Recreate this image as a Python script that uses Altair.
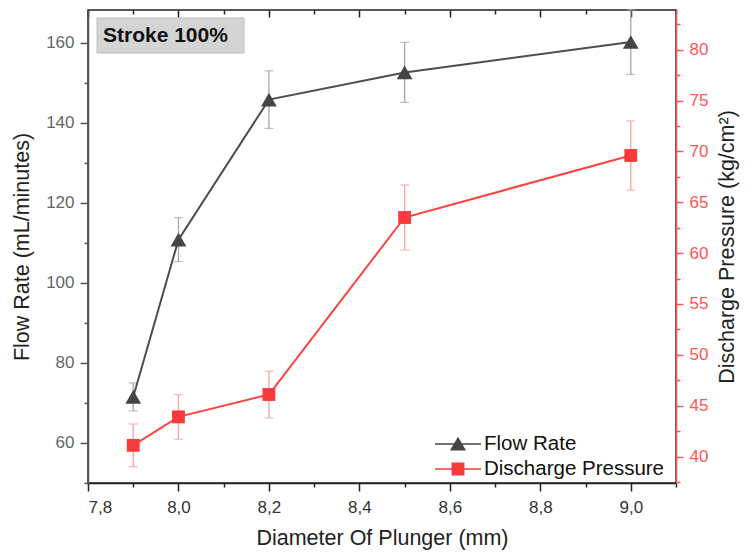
import altair as alt
import pandas as pd

# ---------------- data ----------------
DIAMETER = [7.9, 8.0, 8.2, 8.5, 9.0]
FLOW_RATE = [71.5, 110.8, 145.8, 152.6, 160.2]
FLOW_ERR = [3.5, 5.5, 7.2, 7.5, 8.1]
PRESSURE = [41.1, 43.9, 46.1, 63.5, 69.6]
PRESSURE_ERR = [2.1, 2.2, 2.3, 3.2, 3.4]
SERIES = ["Flow Rate", "Discharge Pressure"]
ANNOTATION = ["Stroke 100%"]

X_TICKS = [7.8, 7.9, 8.0, 8.1, 8.2, 8.3, 8.4, 8.5, 8.6, 8.7, 8.8, 8.9, 9.0, 9.1]
FLOW_TICKS = [50, 60, 70, 80, 90, 100, 110, 120, 130, 140, 150, 160]
PRESSURE_TICKS = [37.5, 40, 42.5, 45, 47.5, 50, 52.5, 55, 57.5, 60, 62.5,
                  65, 67.5, 70, 72.5, 75, 77.5, 80, 82.5]

df = pd.DataFrame({
    "d": DIAMETER,
    "flow": FLOW_RATE,
    "flow_lo": [v - e for v, e in zip(FLOW_RATE, FLOW_ERR)],
    "flow_hi": [v + e for v, e in zip(FLOW_RATE, FLOW_ERR)],
    "p": PRESSURE,
    "p_lo": [v - e for v, e in zip(PRESSURE, PRESSURE_ERR)],
    "p_hi": [v + e for v, e in zip(PRESSURE, PRESSURE_ERR)],
})
legend_df = pd.DataFrame({"series": SERIES, "d": [DIAMETER[0]] * 2, "flow": [FLOW_RATE[0]] * 2})
annot_df = pd.DataFrame({"label": ANNOTATION})

# ---------------- styling ----------------
FONT = "Liberation Sans"
W, H = 588, 473
GRAY_LINE = "#4d4d4d"
GRAY_MARK = "#454545"
GRAY_ERR = "#a8a8a8"
RED_LINE = "#ff4242"
RED_MARK = "#f83a3a"
RED_ERR = "#f7a3a3"
RED_AXIS = "#ff5555"

X_DOMAIN = [7.8, 9.1]
FLOW_DOMAIN = [50, 168.2]
P_DOMAIN = [37.4, 83.9]

x_scale = alt.Scale(domain=X_DOMAIN, nice=False, zero=False)
flow_scale = alt.Scale(domain=FLOW_DOMAIN, nice=False, zero=False)
p_scale = alt.Scale(domain=P_DOMAIN, nice=False, zero=False)

x_major = "abs(round(datum.value * 10)) % 2 == 0"

bottom_axis = alt.Axis(
    orient="bottom", values=X_TICKS, title="Diameter Of Plunger (mm)",
    labelExpr=f"{x_major} ? replace(format(datum.value, '.1f'), '.', ',') : ''",
    tickSize={"condition": {"test": x_major, "value": 8}, "value": 4},
    labelOverlap=False, domainColor="#222", tickColor="#222", labelColor="#333",
    titleColor="#222", labelPadding=8, titlePadding=12, domainWidth=1.5, tickWidth=1.5,
)
top_axis = alt.Axis(
    orient="bottom", offset=-H, values=X_TICKS, title=None, labels=False, domain=False,
    tickSize={"condition": {"test": x_major, "value": 7}, "value": 4},
    tickColor="#222", tickWidth=1.5,
)
left_axis = alt.Axis(
    orient="left", values=FLOW_TICKS, title="Flow Rate (mL/minutes)",
    labelExpr="datum.value % 20 == 0 ? datum.label : ''",
    tickSize={"condition": {"test": "datum.value % 20 == 0", "value": 8}, "value": 4},
    labelOverlap=False, domainColor="#555", tickColor="#555", labelColor="#666",
    titleColor="#222", labelPadding=6, titlePadding=12, domainWidth=1.5, tickWidth=1.5,
)
right_axis = alt.Axis(
    orient="right", values=PRESSURE_TICKS, title="Discharge Pressure (kg/cm²)",
    labelExpr="datum.value % 5 == 0 ? datum.label : ''",
    tickSize={"condition": {"test": "datum.value % 5 == 0", "value": 7}, "value": 4},
    labelOverlap=False, domainColor=RED_AXIS, tickColor=RED_AXIS, labelColor=RED_AXIS,
    titleColor="#222", labelPadding=6, titlePadding=9, domainWidth=1.5, tickWidth=1.5,
    titleAngle=270, titleBaseline="top",
)

base = alt.Chart(df)


def fx():
    return alt.X("d:Q", scale=x_scale, axis=bottom_axis)


def fy(field):
    return alt.Y(field, scale=flow_scale, axis=left_axis)


def px():
    return alt.X("d:Q", scale=x_scale, axis=top_axis)


def py(field):
    return alt.Y(field, scale=p_scale, axis=right_axis)


# ---------------- flow rate (left axis) ----------------
f_rule = base.mark_rule(color=GRAY_ERR, strokeWidth=1.3).encode(
    x=fx(), y=fy("flow_lo:Q"), y2="flow_hi:Q")
f_cap_lo = base.mark_tick(orient="horizontal", size=9, thickness=1.3, color=GRAY_ERR).encode(
    x=fx(), y=fy("flow_lo:Q"))
f_cap_hi = base.mark_tick(orient="horizontal", size=9, thickness=1.3, color=GRAY_ERR).encode(
    x=fx(), y=fy("flow_hi:Q"))
f_line = base.mark_line(color=GRAY_LINE, strokeWidth=2).encode(x=fx(), y=fy("flow:Q"))
f_pts = base.mark_point(shape="triangle-up", filled=True, size=250, opacity=1,
                        color=GRAY_MARK).encode(x=fx(), y=fy("flow:Q"))

# legend symbols: line + marker drawn as one custom path
TRI_PATH = "M-1,-0.032H1V0.032H-1Z M0,-0.32L0.35,0.28L-0.35,0.28Z"
SQ_PATH = "M-1,-0.032H1V0.032H-1Z M-0.28,-0.28H0.28V0.28H-0.28Z"
leg_def = alt.Legend(title=None, orient="none", legendX=347, legendY=423)
leg = alt.Chart(legend_df).mark_point(filled=True, opacity=1, size=10).encode(
    x=fx(), y=fy("flow:Q"),
    color=alt.Color("series:N",
                    scale=alt.Scale(domain=SERIES, range=[GRAY_MARK, RED_MARK]),
                    legend=leg_def),
    shape=alt.Shape("series:N",
                    scale=alt.Scale(domain=SERIES, range=[TRI_PATH, SQ_PATH]),
                    legend=leg_def),
).transform_filter("false")

annot_box = alt.Chart(annot_df).mark_rect(fill="#d4d4d4", stroke="#bdbdbd", strokeWidth=1).encode(
    x=alt.value(9), x2=alt.value(156), y=alt.value(8), y2=alt.value(43))
annot_txt = alt.Chart(annot_df).mark_text(
    font=FONT, fontSize=21, fontWeight="bold", align="left", baseline="middle", color="#111"
).encode(x=alt.value(15), y=alt.value(26), text="label:N")

flow_layer = alt.layer(f_rule, f_cap_lo, f_cap_hi, f_line, f_pts, leg, annot_box, annot_txt)

# ---------------- discharge pressure (right axis) ----------------
p_rule = base.mark_rule(color=RED_ERR, strokeWidth=1.3).encode(
    x=px(), y=py("p_lo:Q"), y2="p_hi:Q")
p_cap_lo = base.mark_tick(orient="horizontal", size=9, thickness=1.3, color=RED_ERR).encode(
    x=px(), y=py("p_lo:Q"))
p_cap_hi = base.mark_tick(orient="horizontal", size=9, thickness=1.3, color=RED_ERR).encode(
    x=px(), y=py("p_hi:Q"))
p_line = base.mark_line(color=RED_LINE, strokeWidth=2).encode(x=px(), y=py("p:Q"))
p_pts = base.mark_point(shape="square", filled=True, size=165, opacity=1,
                        color=RED_MARK).encode(x=px(), y=py("p:Q"))

press_layer = alt.layer(p_rule, p_cap_lo, p_cap_hi, p_line, p_pts)

chart = alt.layer(flow_layer, press_layer).resolve_scale(
    y="independent"
).resolve_axis(
    x="independent", y="independent"
).properties(
    width=W, height=H,
    autosize=alt.AutoSizeParams(type="none"),
    padding={"left": 88, "top": 10, "right": 73, "bottom": 69},
    background="white",
).configure_view(
    stroke="#222", strokeWidth=1.5
).configure_axis(
    labelFont=FONT, titleFont=FONT, labelFontSize=17, titleFontSize=21.5,
    titleFontWeight="normal", grid=False,
).configure_legend(
    labelFont=FONT, labelFontSize=20.5, labelColor="#111", symbolSize=2116,
    labelOffset=3, rowPadding=3, clipHeight=22, padding=0, symbolStrokeWidth=0,
    labelLimit=400,
)

chart.save("out.html", embed_options={"renderer": "svg", "actions": False})
